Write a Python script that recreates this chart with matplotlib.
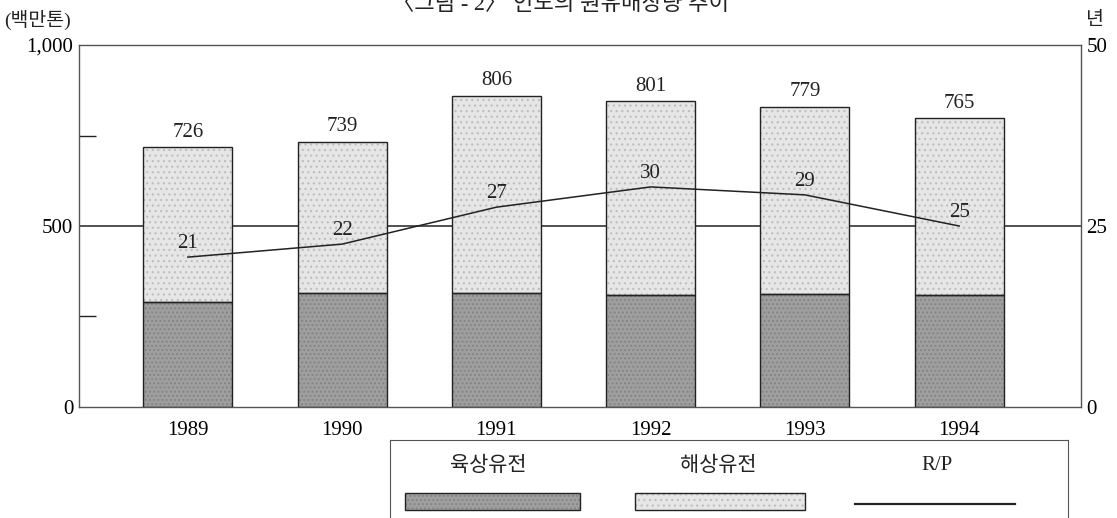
import matplotlib
matplotlib.use("Agg")
import matplotlib.pyplot as plt
from matplotlib.patches import Rectangle
from matplotlib.lines import Line2D

plt.rcParams['font.family'] = ['Liberation Serif', 'Noto Sans CJK KR']
plt.rcParams['hatch.linewidth'] = 0.8

# data
years = ['1989', '1990', '1991', '1992', '1993', '1994']
onshore = [290, 315, 315, 309, 312, 309]          # 육상유전 (drawn height)
offshore = [428, 417, 544, 536, 517, 489]         # 해상유전 (drawn height)
total_labels = ['726', '739', '806', '801', '779', '765']
rp = [20.7, 22.5, 27.6, 30.4, 29.3, 25.0]         # R/P (년)
rp_labels = ['21', '22', '27', '30', '29', '25']

land_color = '#9e9e9e'
sea_color = '#e6e6e6'
ink = '#222222'

fig = plt.figure(figsize=(11.17, 5.18), dpi=100)
ax = fig.add_axes([0.0707, 0.2143, 0.8971, 0.6988])

x = list(range(len(years)))
w = 0.576

# 500 reference line behind the bars
ax.axhline(500, color=ink, lw=1.1, zorder=0)

ax.bar(x, onshore, width=w, color=land_color, hatch='....', edgecolor='#828282',
       linewidth=0, zorder=2)
ax.bar(x, offshore, width=w, bottom=onshore, color=sea_color, hatch='...',
       edgecolor='#bdbdbd', linewidth=0, zorder=2)
ax.bar(x, onshore, width=w, fill=False, edgecolor=ink, linewidth=1.0, zorder=3)
ax.bar(x, offshore, width=w, bottom=onshore, fill=False, edgecolor=ink,
       linewidth=1.0, zorder=3)

for i, lab in enumerate(total_labels):
    ax.annotate(lab, (x[i], onshore[i] + offshore[i]), xytext=(0, 4),
                textcoords='offset points', ha='center', va='bottom',
                fontsize=15, color=ink)

ax.set_xlim(-0.706, 5.79)
ax.set_ylim(0, 1000)
ax.set_yticks([0, 500, 1000])
ax.set_yticklabels(['0', '500', '1,000'], fontsize=15)
ax.set_yticks([250, 750], minor=True)
ax.tick_params(axis='y', which='major', length=0, pad=4)
ax.tick_params(axis='y', which='minor', direction='in', length=12, width=1.0, color=ink)
ax.set_xticks(x)
ax.set_xticklabels(years, fontsize=15)
ax.tick_params(axis='x', length=0, pad=10)
for s in ax.spines.values():
    s.set_color('#555555')
    s.set_linewidth(1.0)

ax2 = ax.twinx()
ax2.plot(x, rp, color=ink, lw=1.1, zorder=4)
for i, lab in enumerate(rp_labels):
    ax2.annotate(lab, (x[i], rp[i]), xytext=(0, 3), textcoords='offset points',
                 ha='center', va='bottom', fontsize=15, color=ink)
ax2.set_ylim(0, 50)
ax2.set_yticks([0, 25, 50])
ax2.set_yticklabels(['0', '25', '50'], fontsize=15)
ax2.tick_params(axis='y', length=0, pad=4)
for s in ax2.spines.values():
    s.set_visible(False)

# titles / units
fig.text(0.502, 1 - 15 / 518, '〈그림 - 2〉 인도의 원유매장량 추이', ha='center', va='bottom',
         fontsize=16, color=ink)
fig.text(0.004, 1 - 20 / 518, '(백만톤)', ha='left', va='center', fontsize=14, color=ink)
fig.text(0.98, 1 - 20 / 518, '년', ha='center', va='center', fontsize=14, color=ink)

# legend box, drawn in pixel units
lg = fig.add_axes([390 / 1117, 0, 678 / 1117, 78 / 518])
lg.set_xlim(390, 1068)
lg.set_ylim(518, 440)
lg.set_xticks([])
lg.set_yticks([])
lg.spines['bottom'].set_visible(False)
for s in ['top', 'left', 'right']:
    lg.spines[s].set_color('#555555')
lg.add_patch(Rectangle((405, 493), 175, 17, facecolor=land_color, hatch='....',
                       edgecolor='#828282', linewidth=0))
lg.add_patch(Rectangle((405, 493), 175, 17, fill=False, edgecolor=ink, linewidth=1.0))
lg.add_patch(Rectangle((635, 493), 170, 17, facecolor=sea_color, hatch='...',
                       edgecolor='#bdbdbd', linewidth=0))
lg.add_patch(Rectangle((635, 493), 170, 17, fill=False, edgecolor=ink, linewidth=1.0))
lg.add_line(Line2D([855, 1015], [504, 504], color=ink, lw=1.6))
lg.text(488, 466, '육상유전', ha='center', va='center', fontsize=15, color=ink)
lg.text(718, 466, '해상유전', ha='center', va='center', fontsize=15, color=ink)
lg.text(937, 466, 'R/P', ha='center', va='center', fontsize=15, color=ink)

fig.savefig('out.png', dpi=100)
